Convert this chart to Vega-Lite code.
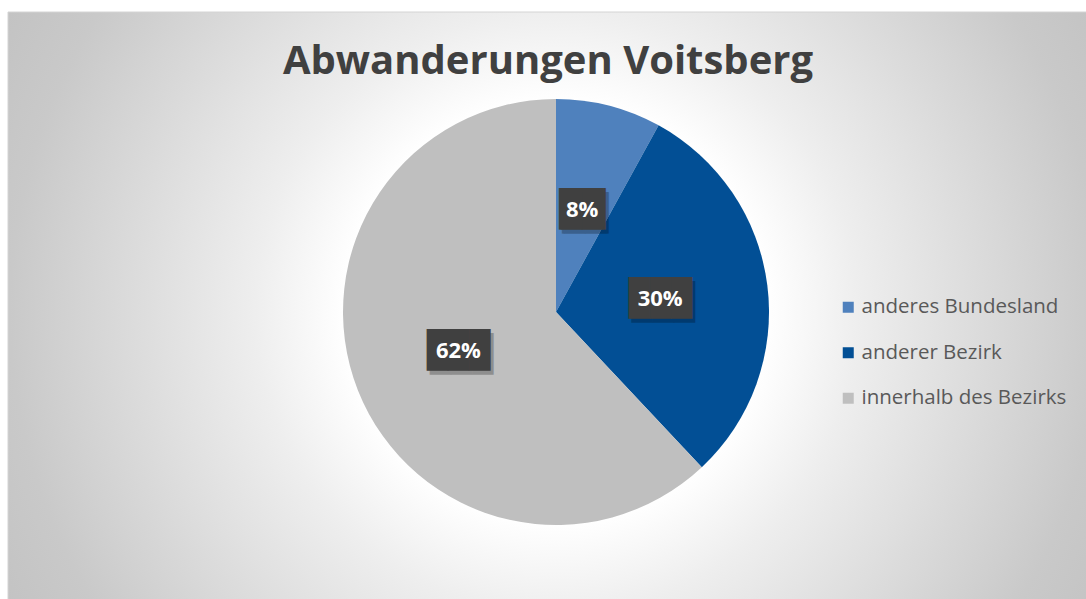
{
  "$schema": "https://vega.github.io/schema/vega-lite/v6.json",
  "width": 1096,
  "height": 600,
  "autosize": {"type": "none"},
  "padding": {"left": 8, "top": 12, "right": 0, "bottom": 0},
  "background": "#ffffff",
  "title": {
    "text": "Abwanderungen Voitsberg",
    "font": "Open Sans",
    "fontSize": 40,
    "fontWeight": "bold",
    "color": "#404040",
    "anchor": "middle",
    "dx": -8,
    "offset": -70
  },
  "config": {"view": {"stroke": null}},
  "data": {
    "values": [
      {"category": "anderes Bundesland", "share": 8, "label": "8%"},
      {"category": "anderer Bezirk", "share": 30, "label": "30%"},
      {"category": "innerhalb des Bezirks", "share": 62, "label": "62%"}
    ]
  },
  "layer": [
    {
      "data": {"values": [{}]},
      "mark": {
        "type": "arc",
        "clip": true,
        "outerRadius": 700,
        "theta": 0,
        "theta2": 6.2832,
        "fill": {
          "gradient": "radial",
          "x1": 0.5, "y1": 0.5, "r1": 0,
          "x2": 0.5, "y2": 0.5, "r2": 0.5,
          "stops": [
            {"offset": 0, "color": "#ffffff"},
            {"offset": 0.3, "color": "#ffffff"},
            {"offset": 0.43, "color": "#eeeeee"},
            {"offset": 0.78, "color": "#c9c9c9"},
            {"offset": 1, "color": "#bdbdbd"}
          ]
        }
      },
      "encoding": {}
    },
    {
      "data": {"values": [{}]},
      "mark": {
        "type": "rect",
        "fill": "transparent",
        "stroke": "#d4d4d4",
        "strokeWidth": 1
      },
      "encoding": {}
    },
    {
      "transform": [
        {"calculate": "length(datum.label) == 2 ? '▕██▏' : '███'", "as": "box"}
      ],
      "encoding": {
        "theta": {"field": "share", "type": "quantitative", "stack": true},
        "order": {"field": "share", "type": "quantitative", "sort": "ascending"},
        "color": {
          "field": "category",
          "type": "nominal",
          "sort": ["anderes Bundesland", "anderer Bezirk", "innerhalb des Bezirks"],
          "scale": {
            "domain": ["anderes Bundesland", "anderer Bezirk", "innerhalb des Bezirks"],
            "range": ["#4f81bd", "#024f95", "#bfbfbf"]
          },
          "legend": {
            "title": null,
            "orient": "none",
            "legendX": 830,
            "legendY": 285,
            "symbolType": "square",
            "symbolSize": 121,
            "symbolStrokeWidth": 0,
            "labelFont": "Open Sans",
            "labelFontSize": 20.5,
            "labelColor": "#595959",
            "labelLimit": 400,
            "labelOffset": 3,
            "rowPadding": 24.5
          }
        }
      },
      "layer": [
        {
          "mark": {"type": "arc", "outerRadius": 213}
        },
        {
          "mark": {
            "type": "text",
            "radius": 105,
            "font": "DejaVu Sans Mono",
            "fontSize": 35,
            "baseline": "middle",
            "align": "center",
            "dx": 3,
            "dy": 4,
            "opacity": 0.25
          },
          "encoding": {
            "text": {"field": "box"},
            "color": {"value": "#000000"},
            "detail": {"field": "category"}
          }
        },
        {
          "mark": {
            "type": "text",
            "radius": 105,
            "font": "DejaVu Sans Mono",
            "fontSize": 35,
            "baseline": "middle",
            "align": "center"
          },
          "encoding": {
            "text": {"field": "box"},
            "color": {"value": "#404040"},
            "detail": {"field": "category"}
          }
        },
        {
          "mark": {
            "type": "text",
            "radius": 105,
            "font": "Open Sans",
            "fontSize": 22,
            "fontWeight": "bold",
            "baseline": "middle",
            "align": "center"
          },
          "encoding": {
            "text": {"field": "label"},
            "color": {"value": "#ffffff"},
            "detail": {"field": "category"}
          }
        }
      ]
    }
  ]
}
